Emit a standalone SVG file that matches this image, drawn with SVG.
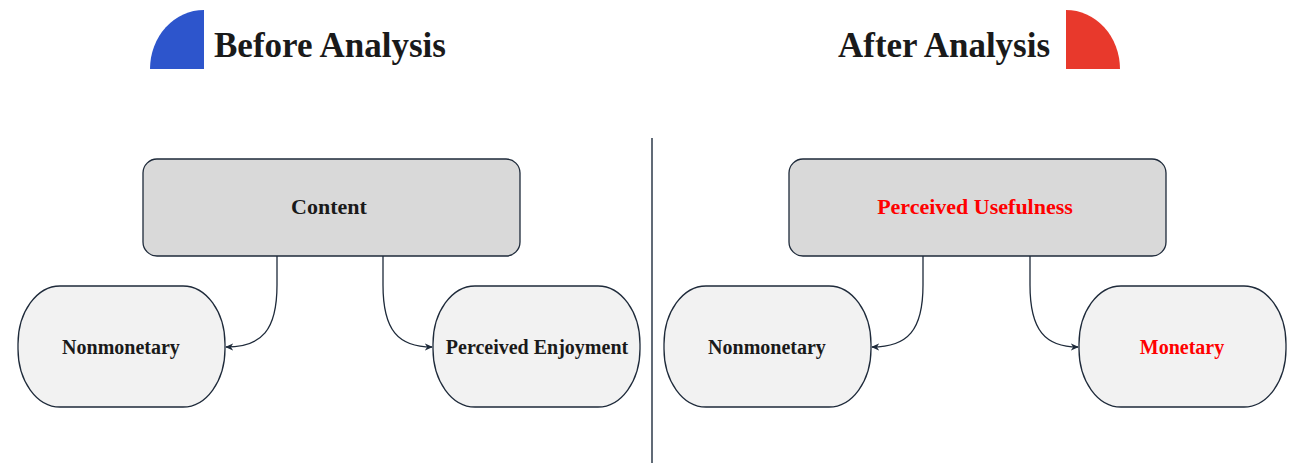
<svg xmlns="http://www.w3.org/2000/svg" width="1299" height="463" viewBox="0 0 1299 463">
  <style>
    .title { font-family: "Liberation Serif", "Times New Roman", serif; font-weight: bold; font-size: 35px; fill: #1a1a1a; }
    .label { font-family: "Liberation Serif", "Times New Roman", serif; font-weight: bold; font-size: 20px; fill: #1a1a1a; text-anchor: middle; }
    .big { font-size: 22px; }
    .red { fill: #ff0000; }
    .box { fill: #d9d9d9; stroke: #1e2a3a; stroke-width: 1.3; }
    .pill { fill: #f2f2f2; stroke: #1e2a3a; stroke-width: 1.3; }
    .edge { fill: none; stroke: #1e2a3a; stroke-width: 1.3; marker-end: url(#arrow); }
  </style>
  <defs>
    <marker id="arrow" viewBox="0 0 10 10" refX="9" refY="5" markerWidth="8" markerHeight="8" orient="auto" markerUnits="userSpaceOnUse">
      <path d="M0,0.5 L10,5 L0,9.5 L3,5 Z" fill="#1e2a3a"/>
    </marker>
  </defs>
  <rect width="1299" height="463" fill="#ffffff"/>

  <!-- headings -->
  <g id="heading-before">
    <path d="M204,69 L150,69 A54,59 0 0 1 204,10 Z" fill="#2d55cc"/>
    <text class="title" x="214" y="57" textLength="232" lengthAdjust="spacingAndGlyphs">Before Analysis</text>
  </g>
  <g id="heading-after">
    <path d="M1066,69 L1120,69 A54,59 0 0 0 1066,10 Z" fill="#e8392c"/>
    <text class="title" x="838" y="57" textLength="212" lengthAdjust="spacingAndGlyphs">After Analysis</text>
  </g>

  <!-- divider -->
  <line id="divider" x1="652" y1="138" x2="652" y2="463" stroke="#2d3a4a" stroke-width="1.5"/>

  <!-- left panel nodes -->
  <g id="content">
    <rect class="box" x="143" y="159" width="377" height="97" rx="14"/>
    <text class="label big" x="329" y="214">Content</text>
  </g>
  <g id="nonmonetary-before">
    <rect class="pill" x="18" y="286" width="207" height="121" rx="42" ry="58"/>
    <text class="label" x="121" y="354">Nonmonetary</text>
  </g>
  <g id="perceived-enjoyment">
    <rect class="pill" x="433" y="286" width="207" height="121" rx="42" ry="58"/>
    <text class="label" x="537" y="354">Perceived Enjoyment</text>
  </g>

  <!-- right panel nodes -->
  <g id="perceived-usefulness">
    <rect class="box" x="789" y="159" width="377" height="97" rx="14"/>
    <text class="label big red" x="975" y="214">Perceived Usefulness</text>
  </g>
  <g id="nonmonetary-after">
    <rect class="pill" x="664" y="286" width="207" height="121" rx="42" ry="58"/>
    <text class="label" x="767" y="354">Nonmonetary</text>
  </g>
  <g id="monetary">
    <rect class="pill" x="1079" y="286" width="207" height="121" rx="42" ry="58"/>
    <text class="label red" x="1182" y="354">Monetary</text>
  </g>

  <!-- connectors -->
  <g id="connectors">
    <path class="edge" d="M277,256 L277,285 C277,330 262,347 226,347"/>
    <path class="edge" d="M383,256 L383,285 C383,330 398,347 432,347"/>
    <path class="edge" d="M923,256 L923,285 C923,330 908,347 872,347"/>
    <path class="edge" d="M1030,256 L1030,285 C1030,330 1045,347 1078,347"/>
  </g>
</svg>
